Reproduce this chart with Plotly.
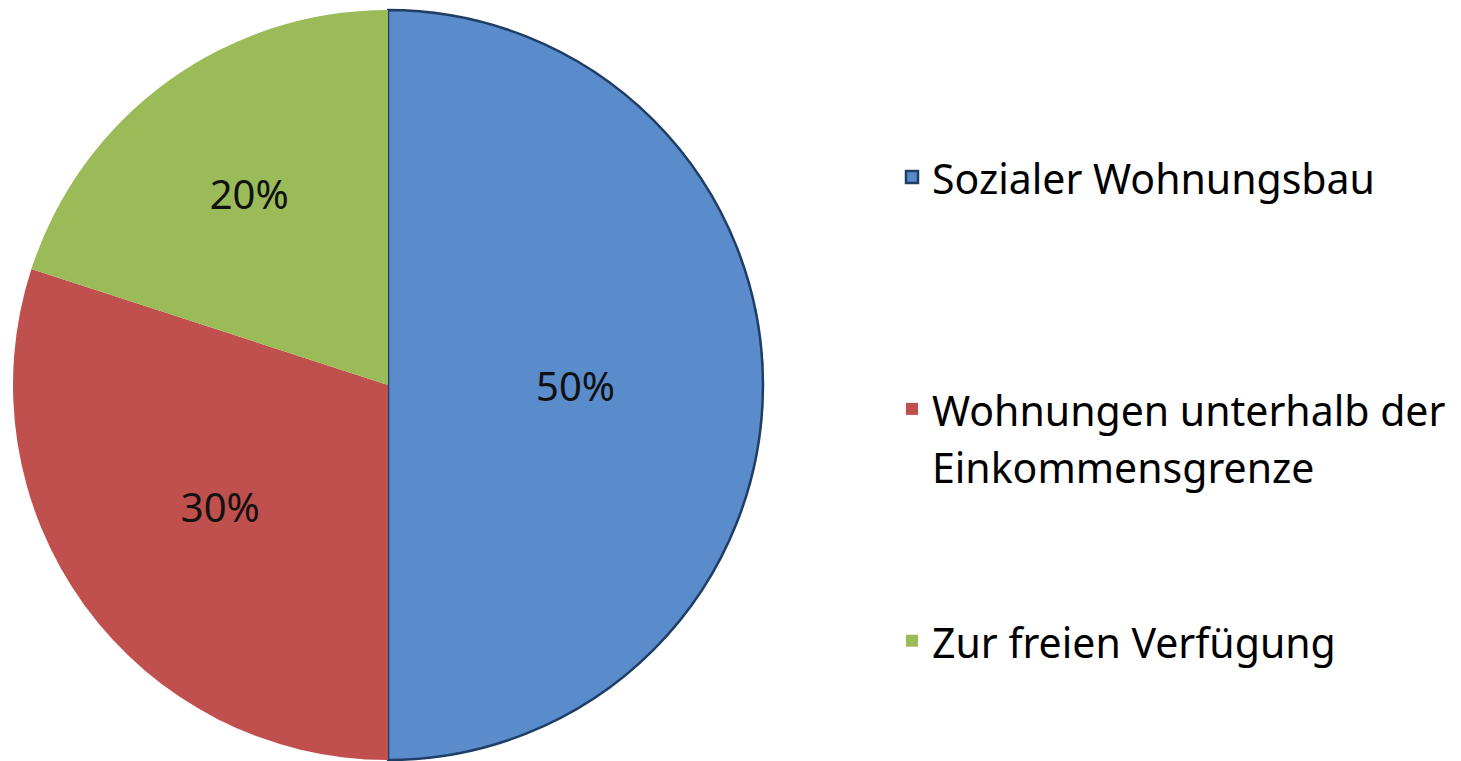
import plotly.graph_objects as go

categories = ["Sozialer Wohnungsbau", "Wohnungen unterhalb der<br>Einkommensgrenze", "Zur freien Verfügung"]
values = [50, 30, 20]
colors = ["#5A8BCB", "#C0504D", "#9BBB59"]
# blank padding lines give the legend its even vertical spacing
padding = ["<br> <br> <br> ", "<br> <br> ", ""]

labels = ['<span style="font-size:41px">' + c + "</span>" + p for c, p in zip(categories, padding)]

# the page body has an 8px default margin, so the figure is 8px smaller
W, H = 1453, 753

fig = go.Figure()
fig.add_trace(go.Pie(
    labels=labels,
    values=values,
    sort=False,
    direction="clockwise",
    rotation=0,
    marker=dict(colors=colors,
                line=dict(color=["#1F3E66", "rgba(0,0,0,0)", "rgba(0,0,0,0)"], width=[2.5, 0, 0])),
    textinfo="percent",
    texttemplate="%{percent:.0%}",
    textposition="inside",
    insidetextorientation="horizontal",
    textfont=dict(family="Noto Sans", size=40, color="#111111"),
    domain=dict(x=[5 / W, 755 / W], y=[1 / H, 751 / H]),
    hoverinfo="percent",
))

fig.update_layout(
    width=W, height=H,
    margin=dict(l=0, r=0, t=0, b=0),
    paper_bgcolor="white",
    plot_bgcolor="white",
    showlegend=True,
    legend=dict(
        x=884 / W, y=1 - 134 / H, xanchor="left", yanchor="top",
        font=dict(family="Noto Sans", size=44, color="#000000"),
        valign="top",
        bgcolor="rgba(0,0,0,0)",
    ),
)

fig.write_html("out.html")
